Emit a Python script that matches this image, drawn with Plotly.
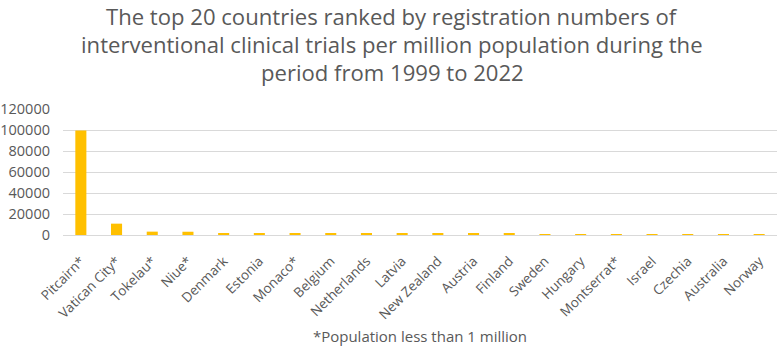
import plotly.graph_objects as go

countries = ["Pitcairn*", "Vatican City*", "Tokelau*", "Niue*", "Denmark", "Estonia",
             "Monaco*", "Belgium", "Netherlands", "Latvia", "New Zealand", "Austria",
             "Finland", "Sweden", "Hungary", "Montserrat*", "Israel", "Czechia",
             "Australia", "Norway"]
trials_per_million = [99600, 10800, 3200, 3100, 1900, 1600, 1300, 1200, 1200, 1000,
                      1000, 1000, 1000, 950, 950, 950, 950, 900, 900, 900]
y_ticks = [0, 20000, 40000, 60000, 80000, 100000, 120000]

title_lines = ["The top 20 countries ranked by registration numbers of",
               "interventional clinical trials per million population during the",
               "period from 1999 to 2022"]

fig = go.Figure(go.Bar(x=countries, y=trials_per_million, marker_color="#FFC000",
                       marker_line_width=0))

grey = "#595959"
W, H = 778, 350
left, right, top, bottom = 63, 1, 109, 115
plot_w = W - left - right
plot_h = H - top - bottom
fig.update_layout(
    width=W, height=H,
    margin=dict(l=left, r=right, t=top, b=bottom),
    paper_bgcolor="white", plot_bgcolor="white",
    bargap=0.69,
    font=dict(family="Open Sans", color=grey),
    showlegend=False,
)
title_cx = 392
for i, line in enumerate(title_lines):
    cy = 16 + 28 * i
    fig.add_annotation(text=line, xref="paper", yref="paper",
                       x=(title_cx - left) / plot_w, xanchor="center",
                       y=(H - bottom - cy) / plot_h, yanchor="middle",
                       showarrow=False, borderpad=0,
                       font=dict(size=22.1, color=grey, family="Open Sans"))
fig.update_yaxes(range=[0, 120000], tickvals=y_ticks, ticktext=[str(v) for v in y_ticks],
                 showgrid=True, gridcolor="#d9d9d9", gridwidth=1, zeroline=False,
                 showline=False, tickfont=dict(size=14.5, color=grey), ticks="",
                 ticklabelstandoff=12)
fig.update_xaxes(tickangle=-45, tickfont=dict(size=13.5, color=grey), showline=True,
                 linecolor="#d9d9d9", linewidth=1, ticks="", ticklabelstandoff=12,
                 title=dict(text="*Population less than 1 million",
                            font=dict(size=15, color=grey), standoff=9))

fig.write_html("out.html")
